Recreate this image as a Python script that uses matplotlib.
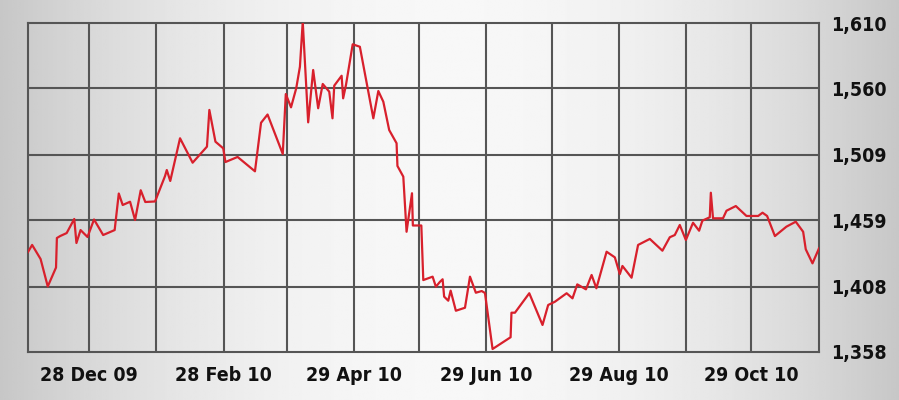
import numpy as np
import matplotlib
matplotlib.use("Agg")
import matplotlib.pyplot as plt

# days counted from 28 Dec 2009
days = [-28.1, -26.2, -22.3, -19.0, -15.2, -14.8, -13.3, -10.3, -6.8, -5.8,
        -3.9, -0.7, 2.3, 6.5, 11.8, 13.7, 15.5, 18.9, 21.2, 23.8,
        25.9, 30.4, 35.0, 35.8, 37.4, 41.9, 47.7, 54.3, 55.4, 58.2,
        61.8, 62.8, 68.4, 76.4, 79.2, 82.2, 89.2, 90.6, 93.0, 95.4,
        97.1, 98.4, 100.9, 103.2, 105.5, 107.6, 110.6, 112.1, 112.9, 116.3,
        117.0, 118.3, 121.4, 124.7, 130.9, 133.2, 135.5, 138.2, 141.6, 142.0,
        144.7, 146.2, 148.7, 149.1, 153.0, 153.9, 158.2, 159.7, 161.6, 162.8,
        163.5, 165.4, 166.5, 168.9, 173.1, 175.4, 178.1, 180.8, 182.3, 185.8,
        194.1, 194.5, 196.1, 202.7, 208.8, 211.4, 214.5, 219.9, 222.6, 224.8,
        228.8, 231.4, 233.6, 238.3, 242.1, 244.4, 245.6, 249.8, 252.8, 258.2,
        264.0, 267.4, 269.7, 272.0, 274.8, 278.1, 280.9, 282.4, 285.8, 286.3,
        287.3, 291.9, 293.5, 297.8, 302.7, 308.1, 310.1, 312.2, 315.8, 321.1,
        325.4, 328.8, 330.0, 333.1, 336.1]
values = [1434.6, 1440.0, 1429.2, 1408.2, 1422.7, 1445.3, 1446.8, 1449.1, 1459.9, 1441.5,
          1451.4, 1446.1, 1459.5, 1447.6, 1451.4, 1479.4, 1470.6, 1473.1, 1459.1, 1481.9,
          1472.9, 1473.3, 1492.8, 1497.4, 1489.0, 1521.7, 1503.0, 1515.3, 1543.4, 1519.1,
          1514.0, 1503.5, 1507.4, 1496.4, 1533.6, 1539.9, 1509.7, 1555.6, 1545.4, 1560.0,
          1576.5, 1611.0, 1533.9, 1574.0, 1544.7, 1563.3, 1557.4, 1537.0, 1562.0, 1569.6,
          1552.3, 1562.5, 1593.7, 1591.8, 1537.0, 1557.9, 1549.7, 1528.0, 1517.9, 1500.5,
          1492.3, 1450.1, 1479.6, 1454.9, 1454.9, 1413.1, 1415.7, 1408.0, 1411.8, 1413.7,
          1400.4, 1397.3, 1405.0, 1389.6, 1391.9, 1415.7, 1403.4, 1404.7, 1403.2, 1360.3,
          1369.3, 1388.1, 1388.1, 1403.0, 1378.7, 1394.0, 1396.5, 1403.0, 1399.1, 1409.8,
          1406.0, 1417.0, 1406.8, 1434.8, 1430.5, 1417.7, 1423.9, 1414.9, 1440.0, 1444.6,
          1435.6, 1445.9, 1447.6, 1455.3, 1443.8, 1457.0, 1450.9, 1458.6, 1461.2, 1480.0,
          1460.4, 1460.4, 1466.2, 1469.8, 1462.2, 1462.2, 1464.7, 1462.2, 1446.8, 1454.0,
          1457.8, 1450.1, 1436.7, 1425.9, 1437.4]

grid_days = [0, 31, 62, 91, 122, 152, 183, 213, 244, 275, 305]
label_days = [0, 62, 122, 183, 244, 305]
label_text = ["28 Dec 09", "28 Feb 10", "29 Apr 10", "29 Jun 10", "29 Aug 10", "29 Oct 10"]
y_ticks = [1358, 1408, 1459, 1509, 1560, 1610]
y_labels = ["1,358", "1,408", "1,459", "1,509", "1,560", "1,610"]

grid_col = "#555555"

fig = plt.figure(figsize=(8.99, 4.0), dpi=100)

# grey background, lighter in the middle
bg = fig.add_axes([0, 0, 1, 1], zorder=-10)
t = np.linspace(0, 1, 400)
shade = 0.78 + 0.19 * (1 - (2 * t - 1) ** 2)
bg.imshow(np.tile(shade, (10, 1)), cmap="gray", vmin=0, vmax=1,
          aspect="auto", extent=[0, 1, 0, 1])
bg.axis("off")

ax = fig.add_axes([28 / 899, 48 / 400, 791 / 899, 329 / 400])
ax.set_facecolor("none")
ax.set_xlim(-28.1, 336.1)
ax.set_ylim(1358, 1610)

for d in grid_days:
    ax.axvline(d, color=grid_col, lw=1.5, zorder=1)
for v in y_ticks[1:-1]:
    ax.axhline(v, color=grid_col, lw=1.5, zorder=1)
for s in ax.spines.values():
    s.set_color(grid_col)
    s.set_linewidth(1.5)

ax.plot(days, values, color="#d8202c", lw=1.6, zorder=3)

ax.set_xticks(label_days)
ax.set_xticklabels(label_text)
ax.yaxis.tick_right()
ax.set_yticks(y_ticks)
ax.set_yticklabels(y_labels)
ax.tick_params(length=0)
ax.tick_params(axis="x", pad=10)
ax.tick_params(axis="y", pad=9)
for lab in ax.get_xticklabels() + ax.get_yticklabels():
    lab.set_family("DejaVu Sans")
    lab.set_fontstretch("condensed")
    lab.set_fontweight("bold")
    lab.set_fontsize(14)
    lab.set_color("#111111")

fig.savefig("out.png", dpi=100)
